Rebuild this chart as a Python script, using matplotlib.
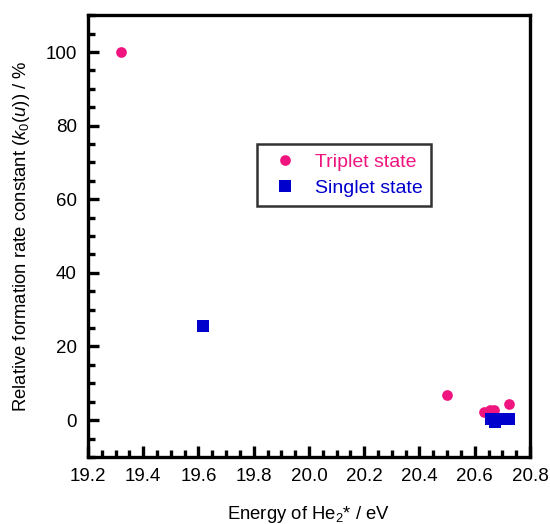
import numpy as np
from matplotlib import pyplot as plt
from matplotlib.ticker import MultipleLocator

plt.rcParams["font.family"] = ["Liberation Sans", "DejaVu Sans"]
plt.rcParams["mathtext.fontset"] = "custom"
plt.rcParams["mathtext.rm"] = "Liberation Sans"
plt.rcParams["mathtext.it"] = "Liberation Sans:italic"

# data
triplet_energy = [19.32, 20.50, 20.635, 20.655, 20.67, 20.725]
triplet_rate = [100.0, 6.7, 2.2, 2.8, 2.8, 4.3]
singlet_energy = [19.617, 20.66, 20.675, 20.70, 20.725]
singlet_rate = [25.7, 0.3, -0.4, 0.3, 0.3]

pink = "#F0147F"
blue = "#0000CC"

fig = plt.figure(figsize=(5.5, 5.24), dpi=100)
ax = fig.add_axes([0.16, 0.128, 0.8036, 0.843])

ax.plot(triplet_energy, triplet_rate, "o", color=pink, ms=7.7, mew=0, label="Triplet state")
ax.plot(singlet_energy, singlet_rate, "s", color=blue, ms=9, mew=0, label="Singlet state")

ax.set_xlim(19.2, 20.8)
ax.set_ylim(-10, 110)
ax.xaxis.set_major_locator(MultipleLocator(0.2))
ax.xaxis.set_minor_locator(MultipleLocator(0.05))
ax.yaxis.set_major_locator(MultipleLocator(20))
ax.yaxis.set_minor_locator(MultipleLocator(5))
ax.xaxis.set_major_formatter(plt.FuncFormatter(lambda v, p: f"{v:.1f}"))

for s in ax.spines.values():
    s.set_linewidth(2.4)
ax.tick_params(which="both", direction="in", width=2.4, top=False, right=False,
               labelsize=13.5, pad=8)
ax.tick_params(which="major", length=8)
ax.tick_params(which="minor", length=5)

ax.set_xlabel("Energy of He$_2$* / eV", fontsize=13.3, labelpad=14)
ax.set_ylabel("Relative formation rate constant ($k_0$($u$)) / %", fontsize=13.3, labelpad=10)

leg = ax.legend(loc="upper left", bbox_to_anchor=(0.3815, 0.708), borderaxespad=0,
                fontsize=14, frameon=True, fancybox=False, handlelength=2.0,
                handletextpad=0.55, borderpad=0.45, labelspacing=0.45)
leg.get_frame().set_edgecolor("black")
leg.get_frame().set_linewidth(1.8)
for txt, c in zip(leg.get_texts(), [pink, blue]):
    txt.set_color(c)

fig.savefig("out.png", dpi=100)
